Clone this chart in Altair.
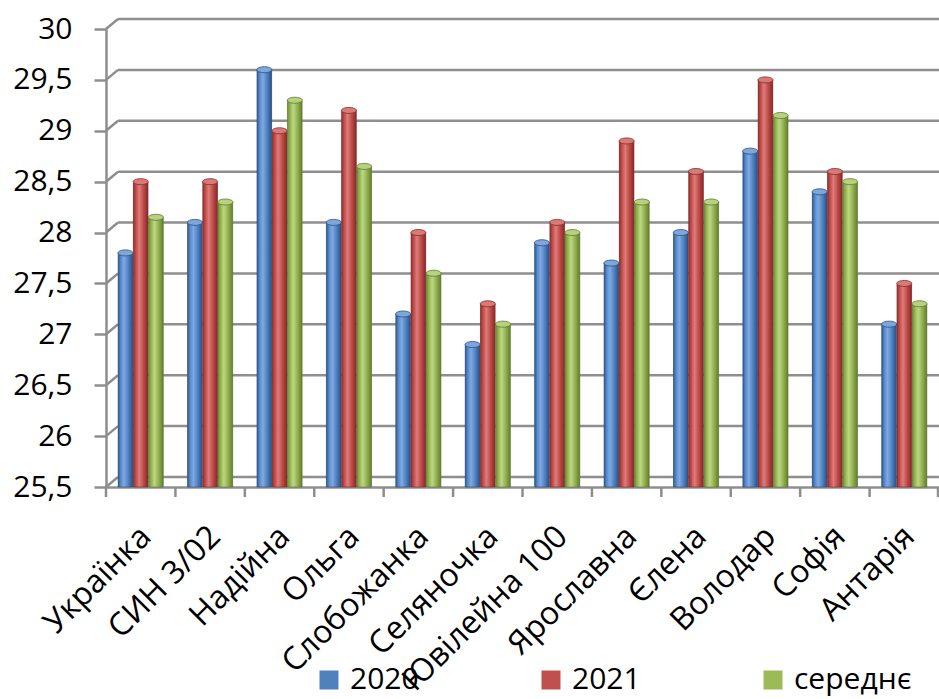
import altair as alt
import pandas as pd

categories = ["Українка", "СИН 3/02", "Надійна", "Ольга", "Слобожанка", "Селяночка",
              "Ювілейна 100", "Ярославна", "Єлена", "Володар", "Софія", "Антарія"]
v2020 = [27.8, 28.1, 29.6, 28.1, 27.2, 26.9, 27.9, 27.7, 28.0, 28.8, 28.4, 27.1]
v2021 = [28.5, 28.5, 29.0, 29.2, 28.0, 27.3, 28.1, 28.9, 28.6, 29.5, 28.6, 27.5]
vavg = [28.15, 28.3, 29.3, 28.65, 27.6, 27.1, 28.0, 28.3, 28.3, 29.15, 28.5, 27.3]
series = ["2020", "2021", "середнє"]
colors = ["#4F81BD", "#C0504D", "#9BBB59"]
y_ticks = [25.5, 26, 26.5, 27, 27.5, 28, 28.5, 29, 29.5, 30]

W, H = 833, 458
GRID = "#8e8e8e"
FONT = "Open Sans"

rows = []
for s, vals in zip(series, [v2020, v2021, vavg]):
    for c, v in zip(categories, vals):
        rows.append({"cat": c, "series": s, "v": v})
df = pd.DataFrame(rows)
grid_df = pd.DataFrame({"t": y_ticks})
cat_df = pd.DataFrame({"cat": categories})

xscale = alt.Scale(domain=categories, paddingInner=0.35, paddingOuter=0.175)
xaxis = alt.Axis(title=None, ticks=False, domain=True, domainColor=GRID, domainWidth=2.5,
                 labelAngle=-45, labelAlign="right", labelBaseline="middle",
                 labelFontSize=32, labelPadding=44, labelOffset=5, labelColor="#000",
                 labelFont=FONT, labelOverlap=False, labelLimit=400)
yscale = alt.Scale(domain=[25.5, 30], zero=False, nice=False)
yaxis = alt.Axis(title=None, values=y_ticks, grid=False, domainColor=GRID, domainWidth=2.5,
                 tickColor=GRID, tickWidth=2.5, tickSize=12, labelFontSize=30,
                 labelPadding=22, labelColor="#000", labelFont=FONT,
                 labelExpr="replace(toString(datum.value), '.', ',')")

X = alt.X("cat:N", scale=xscale, axis=xaxis)
XO = alt.XOffset("series:N", scale=alt.Scale(domain=series, paddingInner=0.04))

grid = alt.Chart(grid_df).mark_rule(color=GRID, strokeWidth=2.5, yOffset=-10).encode(
    y=alt.Y("t:Q", scale=yscale, axis=yaxis),
    x=alt.value(12), x2=alt.value(W))

diag = alt.Chart(grid_df).mark_rule(color=GRID, strokeWidth=2.5, y2Offset=-10).encode(
    y=alt.Y("t:Q", scale=yscale, axis=yaxis), y2=alt.Y2("t"),
    x=alt.value(0), x2=alt.value(12))

base = alt.Chart(df).mark_bar(xOffset=5).encode(
    x=X, xOffset=XO,
    y=alt.Y("v:Q", scale=yscale, axis=yaxis), y2=alt.datum(25.5),
    color=alt.Color("series:N", scale=alt.Scale(domain=series, range=colors),
                    legend=alt.Legend(title=None, orient="none", legendX=208, legendY=636,
                                      direction="horizontal", columns=3, columnPadding=117,
                                      symbolType="square", symbolSize=361,
                                      symbolStrokeWidth=0, labelFontSize=30,
                                      labelFont=FONT, labelColor="#000", labelOffset=6,
                                      padding=0)))

grads = {
    "2020": ["#2f5b95", "#5c8dcc", "#7eaae3", "#4f80bf", "#2a5088"],
    "2021": ["#93302d", "#c4514e", "#df7c79", "#bb4a47", "#86292a"],
    "середнє": ["#6f8b36", "#98b856", "#bcd883", "#90af4e", "#637d2f"],
}
caps = {"2020": "#7ea6da", "2021": "#d97a77", "середнє": "#b7d27f"}
edge = {"2020": "#2a4f82", "2021": "#7f2a28", "середнє": "#5e7630"}

ellipse = "M -1 0 A 1 0.4 0 1 0 1 0 A 1 0.4 0 1 0 -1 0 Z"

layers = [grid, diag, base]
for s in series:
    st = grads[s]
    g = alt.Gradient(gradient="linear", x1=0, x2=1, y1=0, y2=0,
                     stops=[alt.GradientStop(color=st[0], offset=0),
                            alt.GradientStop(color=st[1], offset=0.2),
                            alt.GradientStop(color=st[2], offset=0.4),
                            alt.GradientStop(color=st[3], offset=0.7),
                            alt.GradientStop(color=st[4], offset=1)])
    sub = alt.Chart(df).transform_filter(alt.datum.series == s)
    bar = sub.mark_bar(xOffset=5, fill=g, stroke=edge[s], strokeWidth=0.6).encode(
        x=X, xOffset=XO,
        y=alt.Y("v:Q", scale=yscale, axis=yaxis), y2=alt.datum(25.5))
    cap = sub.mark_point(xOffset=5, shape=ellipse, filled=True, size=225, opacity=1,
                         fill=caps[s], stroke=edge[s], strokeWidth=0.8).encode(
        x=X, xOffset=XO,
        y=alt.Y("v:Q", scale=yscale, axis=yaxis))
    layers += [bar, cap]

xticks = alt.Chart(cat_df).mark_rule(color=GRID, strokeWidth=2.5, xOffset=-W / 24).encode(
    x=X, y=alt.value(H), y2=alt.value(H + 10))
last_tick = alt.Chart(pd.DataFrame({"a": [0]})).mark_rule(color=GRID, strokeWidth=2.5).encode(
    x=alt.value(W - 1), y=alt.value(H), y2=alt.value(H + 10))
layers += [xticks, last_tick]

chart = alt.layer(*layers).properties(
    width=W, height=H, autosize="none",
    padding={"left": 106, "top": 29, "right": 0, "bottom": 212},
    background="white"
).configure_view(stroke=None)

chart.save("out.html", embed_options={"renderer": "svg", "actions": False})
